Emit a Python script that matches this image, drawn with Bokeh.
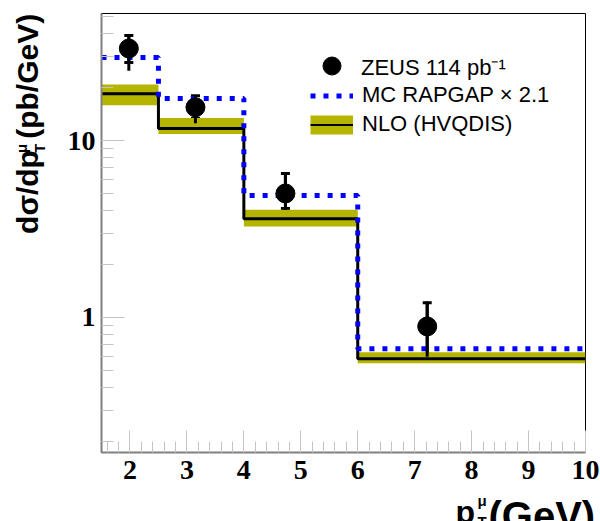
import math
from bokeh.plotting import figure
from bokeh.layouts import column, row
from bokeh.models import (Range1d, Label, Legend, LegendItem, ColumnDataSource, Whisker,
                          TeeHead, SingleIntervalTicker, FixedTicker, NumeralTickFormatter)
from bokeh.embed import file_html
from bokeh.resources import INLINE

# pT bins (GeV)
bin_edges = [1.5, 2.5, 4.0, 6.0, 10.0]

# ZEUS measurement: bin-centre pT, cross section, stat. and total error limits (pb/GeV)
zeus_pt = [1.98, 3.15, 4.73, 7.22]
zeus_xsec = [33.1, 15.4, 5.02, 0.89]
zeus_stat_lo = [27.6, 13.3, 4.13, 0.62]
zeus_stat_hi = [39.2, 17.9, 6.51, 1.21]
zeus_tot_lo = [24.8, 12.5, 4.05, 0.60]
zeus_tot_hi = [39.6, 18.0, 6.60, 1.23]

# MC RAPGAP (scaled by 2.1)
rapgap_xsec = [29.4, 17.3, 4.89, 0.666]

# NLO (HVQDIS) central value and uncertainty band
nlo_xsec = [18.4, 11.7, 3.61, 0.584]
nlo_lo = [15.8, 10.9, 3.27, 0.552]
nlo_hi = [20.7, 13.4, 4.06, 0.637]

y_ticks = [1, 10]

OLIVE = "#b5b500"
BLUE = "#0000ff"

# page layout: a narrow strip for the y title, the plot, and a strip for the x title
LEFT_W, MAIN_W, MAIN_H, BOTTOM_H = 55, 545, 494, 27


def histogram_steps(edges, values):
    xs, ys = [], []
    for i, v in enumerate(values):
        xs += [edges[i], edges[i + 1]]
        ys += [v, v]
    return xs, ys


p = figure(width=MAIN_W, height=MAIN_H,
           x_range=Range1d(1.5, 10.0), y_range=Range1d(0.1726, 52.2),
           y_axis_type="log", output_backend="svg", toolbar_location=None,
           min_border_left=46, min_border_right=15,
           min_border_top=13, min_border_bottom=42)
p.grid.visible = False
p.outline_line_color = "black"
p.outline_line_width = 1
p.background_fill_color = "white"
p.border_fill_color = "white"

# axes: inward ticks
for ax in (p.xaxis, p.yaxis):
    ax.axis_line_color = "#808080"
    ax.axis_line_width = 2
    ax.major_tick_out = 0
    ax.minor_tick_out = 0
    ax.major_tick_line_color = "#c4c4c4"
    ax.minor_tick_line_color = "#c4c4c4"
    ax.major_label_text_font = "Liberation Serif"
    ax.major_label_text_font_style = "bold"
    ax.major_label_text_font_size = "28px"
    ax.major_label_text_color = "black"

p.xaxis.ticker = SingleIntervalTicker(interval=1, num_minor_ticks=5)
p.xaxis.major_tick_in = 22
p.xaxis.minor_tick_in = 11
p.xaxis.major_label_standoff = 8

minor_y = [m * 10.0 ** e for e in (-1, 0, 1) for m in range(2, 10) if 0.1726 < m * 10.0 ** e < 52.2]
p.yaxis.ticker = FixedTicker(ticks=y_ticks, minor_ticks=minor_y)
p.yaxis.formatter = NumeralTickFormatter(format="0")
p.yaxis.major_tick_in = 23
p.yaxis.minor_tick_in = 12
p.yaxis.major_label_standoff = 6

# NLO band and central line
p.quad(left=bin_edges[:-1], right=bin_edges[1:], bottom=nlo_lo, top=nlo_hi,
       fill_color=OLIVE, line_color=None)
nx, ny = histogram_steps(bin_edges, nlo_xsec)
nlo_line = p.line(nx, ny, line_color="black", line_width=3)

# MC RAPGAP dotted histogram
rx, ry = histogram_steps(bin_edges, rapgap_xsec)
rap_line = p.line(rx, ry, line_color=BLUE, line_width=5, line_dash="5 8")

# ZEUS data points with errors
src = ColumnDataSource(dict(x=zeus_pt, y=zeus_xsec, slo=zeus_stat_lo, shi=zeus_stat_hi,
                            tlo=zeus_tot_lo, thi=zeus_tot_hi))
p.segment(x0="x", y0="tlo", x1="x", y1="thi", source=src, line_color="black", line_width=3)
p.add_layout(Whisker(source=src, base="x", lower="slo", upper="shi", dimension="height",
                     line_color="black", line_width=3,
                     lower_head=TeeHead(size=9, line_width=3, line_color="black"),
                     upper_head=TeeHead(size=9, line_width=3, line_color="black")))
pts = p.scatter(x="x", y="y", source=src, size=19, marker="circle",
                fill_color="black", line_color="black")

# swatches for the band entry of the legend (nothing drawn in the plot area)
band_swatch = p.line(x=[float("nan")], y=[float("nan")], line_color=OLIVE, line_width=19)
nlo_swatch = p.line(x=[float("nan")], y=[float("nan")], line_color="black", line_width=2)

legend_common = dict(padding=0, margin=0, border_line_color=None, background_fill_alpha=0,
                     label_text_font="Liberation Sans", label_text_font_size="22px",
                     label_text_color="black")
leg1 = Legend(items=[LegendItem(label="ZEUS 114 pb\u207b\u00b9", renderers=[pts])],
              location=(208, 364), glyph_width=45, glyph_height=45, label_standoff=7,
              **legend_common)
leg2 = Legend(items=[LegendItem(label="MC RAPGAP \u00d7 2.1", renderers=[rap_line]),
                     LegendItem(label="NLO (HVQDIS)", renderers=[band_swatch, nlo_swatch])],
              location=(209, 315), glyph_width=43, glyph_height=25, label_height=25,
              spacing=3, label_standoff=9, **legend_common)
p.add_layout(leg1)
p.add_layout(leg2)


def text_strip(w, h):
    f = figure(width=w, height=h, x_range=Range1d(0, w), y_range=Range1d(0, h),
               x_axis_location=None, y_axis_location=None, output_backend="svg",
               toolbar_location=None, min_border=0)
    f.grid.visible = False
    f.outline_line_color = None
    f.background_fill_color = "white"
    f.border_fill_color = "white"
    return f


title_font = dict(text_font="Liberation Sans", text_font_style="bold", text_color="black",
                  text_baseline="middle")
rot = math.pi / 2

# y title, reading upwards (strip coordinates: y measured from the strip bottom)
ylab = text_strip(LEFT_W, MAIN_H)
ylab.add_layout(Label(x=26.5, y=MAIN_H - 248, text="d\u03c3/dp", angle=rot, text_font_size="30px", **title_font))
ylab.add_layout(Label(x=38.5, y=MAIN_H - 157, text="T", angle=rot, text_font_size="15px", **title_font))
ylab.add_layout(Label(x=20.5, y=MAIN_H - 157, text="\u03bc", angle=rot, text_font_size="15px", **title_font))
ylab.add_layout(Label(x=26.5, y=MAIN_H - 141, text="(pb/GeV)", angle=rot, text_font_size="30px", **title_font))

# x title along the bottom edge (partly below the page edge)
xlab = text_strip(LEFT_W + MAIN_W, BOTTOM_H)
xlab.add_layout(Label(x=455, y=10, text="p", text_font_size="32px", **title_font))
xlab.add_layout(Label(x=477, y=0, text="T", text_font_size="15px", **title_font))
xlab.add_layout(Label(x=477, y=21, text="\u03bc", text_font_size="15px", **title_font))
xlab.add_layout(Label(x=488, y=6, text="(GeV)", text_font_size="40px", **title_font))

page = column(row(ylab, p, spacing=0), xlab, spacing=0)

open("out.html", "w").write(file_html(page, INLINE))
